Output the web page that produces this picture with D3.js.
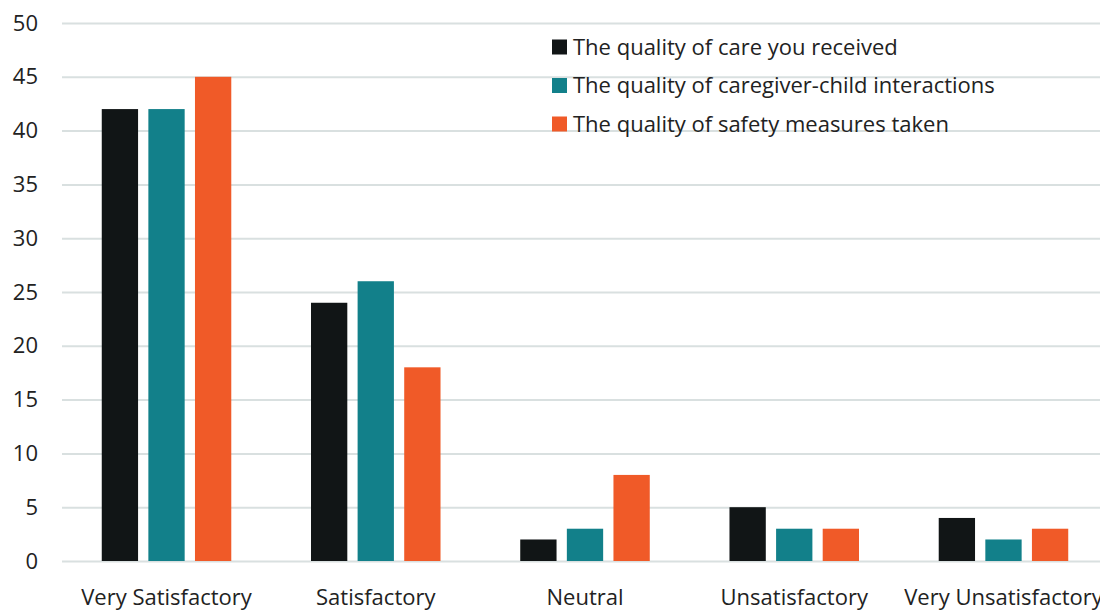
<!DOCTYPE html>
<html>
<head>
<meta charset="utf-8">
<script src="https://cdn.jsdelivr.net/npm/d3@7"></script>
<style>
  html, body { margin: 0; padding: 0; background: #fff; }
  svg { display: block; font-family: "Open Sans", "Noto Sans", sans-serif; }
</style>
</head>
<body>
<svg id="chart" width="1100" height="610"></svg>
<script>
// Survey responses by satisfaction level
const categories = ["Very Satisfactory", "Satisfactory", "Neutral", "Unsatisfactory", "Very Unsatisfactory"];
const seriesNames = [
  "The quality of care you received",
  "The quality of caregiver-child interactions",
  "The quality of safety measures taken"
];
const careReceived = [42, 24, 2, 5, 4];
const caregiverChild = [42, 26, 3, 3, 2];
const safetyMeasures = [45, 18, 8, 3, 3];
const yTicks = [0, 5, 10, 15, 20, 25, 30, 35, 40, 45, 50];
const colors = ["#111516", "#12808a", "#f05a28"];

const seriesValues = [careReceived, caregiverChild, safetyMeasures];

const svg = d3.select("#chart");
const plotLeft = 62, plotRight = 1108, plotTop = 23, plotBottom = 561;

const x0 = d3.scaleBand().domain(categories).range([plotLeft, plotRight])
  .paddingInner(0.381).paddingOuter(0.19);
const x1 = d3.scaleBand().domain(seriesNames).range([0, x0.bandwidth()])
  .paddingInner(0.221).paddingOuter(0);
const y = d3.scaleLinear().domain([0, 50]).range([plotBottom, plotTop]);

// Horizontal gridlines and y tick labels
const yAxis = d3.axisLeft(y).tickValues(yTicks).tickSize(-(1100 - plotLeft)).tickPadding(24);
const gy = svg.append("g").attr("transform", `translate(${plotLeft},0)`).call(yAxis);
gy.select(".domain").remove();
gy.selectAll(".tick line").attr("stroke", "#d9e0e0").attr("stroke-width", 2);
gy.selectAll(".tick text")
  .attr("font-size", 22).attr("fill", "#222").attr("font-family", "Open Sans, sans-serif");

// Grouped bars
const groups = svg.append("g").selectAll("g")
  .data(categories)
  .join("g")
  .attr("transform", d => `translate(${x0(d)},0)`);

groups.selectAll("rect")
  .data((c, i) => seriesNames.map((s, k) => ({ s, k, v: seriesValues[k][i] })))
  .join("rect")
  .attr("x", d => x1(d.s))
  .attr("width", x1.bandwidth())
  .attr("y", d => y(d.v))
  .attr("height", d => y(0) - y(d.v))
  .attr("fill", d => colors[d.k]);

// Category labels
const xAxis = d3.axisBottom(x0).tickSize(0).tickPadding(28);
const gx = svg.append("g").attr("transform", `translate(0,${plotBottom})`).call(xAxis);
gx.select(".domain").remove();
gx.selectAll(".tick text")
  .attr("font-size", 22).attr("fill", "#222").attr("font-family", "Open Sans, sans-serif");

// Legend
const legend = svg.append("g").attr("transform", "translate(552,0)");
const legendRows = legend.selectAll("g")
  .data(seriesNames)
  .join("g")
  .attr("transform", (d, i) => `translate(0,${47 + i * 38.5})`);
legendRows.append("rect")
  .attr("x", 0).attr("y", -7.5).attr("width", 15).attr("height", 15)
  .attr("fill", (d, i) => colors[i]);
legendRows.append("text")
  .attr("x", 21).attr("y", 0).attr("dy", "0.35em")
  .attr("font-size", 22).attr("fill", "#222")
  .text(d => d);
</script>
</body>
</html>
